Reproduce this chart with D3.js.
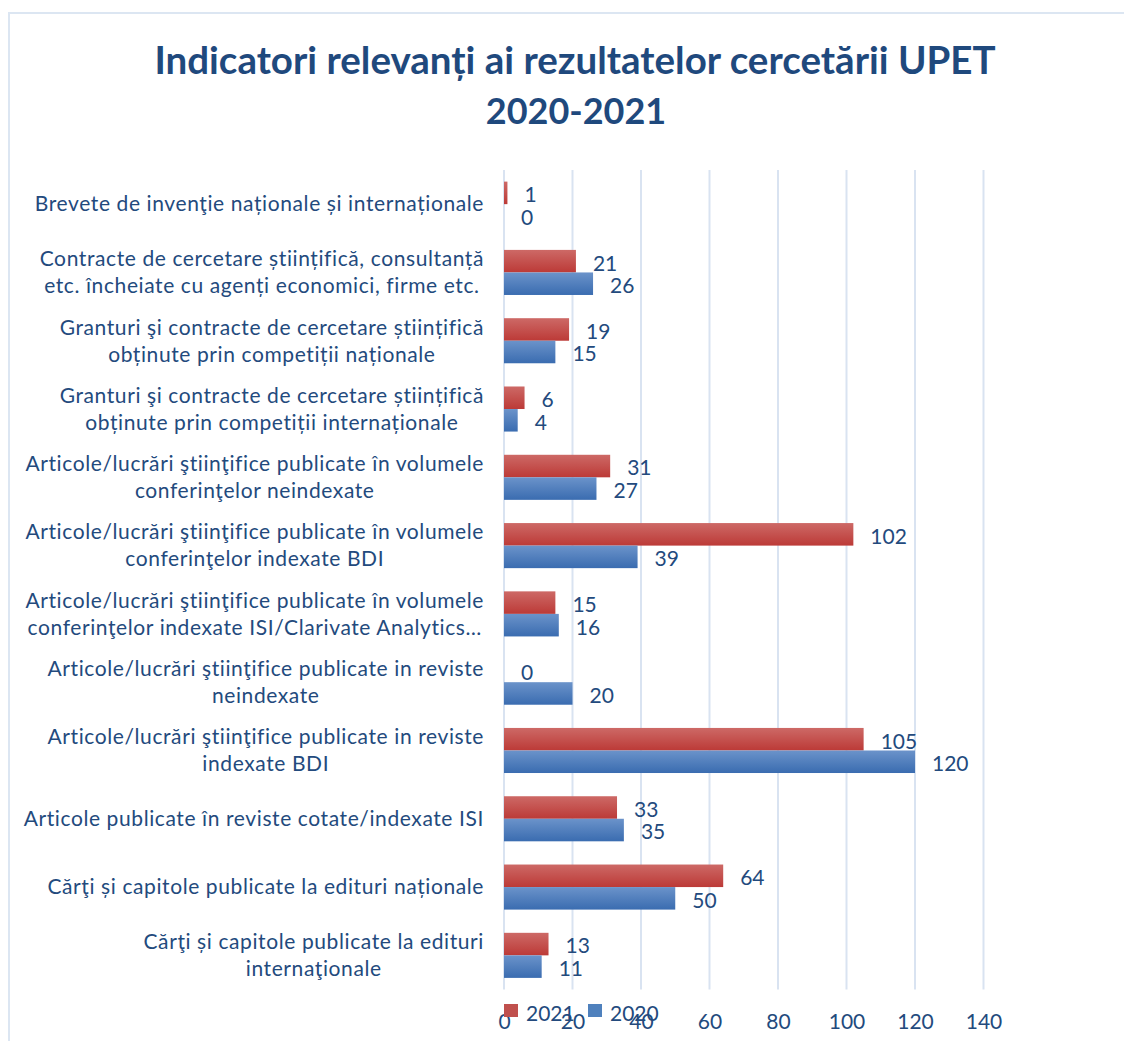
<!DOCTYPE html>
<html>
<head>
<meta charset="utf-8">
<script src="https://cdn.jsdelivr.net/npm/d3@7"></script>
<style>
  body { margin: 0; background: #fff; }
  svg { display: block; }
</style>
</head>
<body>
<script>
// date
const categorii = [
  ["Brevete de invenţie naționale și internaționale"],
  ["Contracte de cercetare științifică, consultanță", "etc. încheiate cu agenți economici, firme etc."],
  ["Granturi şi contracte de cercetare științifică", "obținute prin competiții naționale"],
  ["Granturi şi contracte de cercetare științifică", "obținute prin competiții internaționale"],
  ["Articole/lucrări ştiinţifice publicate în volumele", "conferinţelor neindexate"],
  ["Articole/lucrări ştiinţifice publicate în volumele", "conferinţelor indexate BDI"],
  ["Articole/lucrări ştiinţifice publicate în volumele", "conferinţelor indexate ISI/Clarivate Analytics…"],
  ["Articole/lucrări ştiinţifice publicate in reviste", "neindexate"],
  ["Articole/lucrări ştiinţifice publicate in reviste", "indexate BDI"],
  ["Articole publicate în reviste cotate/indexate ISI"],
  ["Cărţi și capitole publicate la edituri naționale"],
  ["Cărţi și capitole publicate la edituri", "internaţionale"]
];
const valori2021 = [1, 21, 19, 6, 31, 102, 15, 0, 105, 33, 64, 13];
const valori2020 = [0, 26, 15, 4, 27, 39, 16, 20, 120, 35, 50, 11];
const serii = ["2021", "2020"];
const tickuri = [0, 20, 40, 60, 80, 100, 120, 140];

const w = 1124;
const h = 1041;
const culoareText = "#234A7D";
const font = "Lato, 'Open Sans', sans-serif";

var svg = d3.select("body")
    .append("svg")
    .attr("width", w)
    .attr("height", h);

// gradiente pt bare
var defs = svg.append("defs");
function gradient(id, sus, jos) {
    var g = defs.append("linearGradient").attr("id", id)
        .attr("x1", 0).attr("y1", 0).attr("x2", 0).attr("y2", 1);
    g.append("stop").attr("offset", "0%").attr("stop-color", sus);
    g.append("stop").attr("offset", "100%").attr("stop-color", jos);
}
gradient("gRosu", "#CD6966", "#BC3A37");
gradient("gAlbastru", "#6B93CA", "#3A6CB0");
const culori = { "2021": "url(#gRosu)", "2020": "url(#gAlbastru)" };
const culoriLegenda = { "2021": "#C0504D", "2020": "#4F81BD" };

// chenarul graficului
svg.append("path")
    .attr("d", "M9," + h + " V13 H" + w)
    .attr("fill", "none")
    .attr("stroke", "#DCE6F2")
    .attr("stroke-width", 2);

// titlu
var titlu = svg.append("text")
    .attr("x", 575)
    .attr("text-anchor", "middle")
    .attr("font-family", font)
    .attr("font-weight", "bold")
    .attr("fill", "#1F497D");
titlu.append("tspan").attr("x", 575).attr("y", 74).attr("font-size", "38.5px")
    .text("Indicatori relevanți ai rezultatelor cercetării UPET");
titlu.append("tspan").attr("x", 576).attr("y", 124).attr("font-size", "36px")
    .text("2020-2021");

// scale
var x = d3.scaleLinear().domain([0, 140]).range([504, 983.5]);
var y = d3.scaleBand()
    .domain(d3.range(categorii.length))
    .range([170, 989.5])
    .paddingInner(0.34)
    .paddingOuter(0.17);
var ySerie = d3.scaleBand().domain(serii).range([0, y.bandwidth()]);

// grila verticala
svg.append("g")
    .selectAll("line")
    .data(tickuri)
    .enter()
    .append("line")
    .attr("x1", d => x(d))
    .attr("x2", d => x(d))
    .attr("y1", 170)
    .attr("y2", 989.5)
    .attr("stroke", "#D9E3F1")
    .attr("stroke-width", 2);

// axa x (doar etichete)
var axa = svg.append("g")
    .attr("transform", "translate(0,1014)")
    .call(d3.axisBottom(x).tickValues(tickuri).tickSize(0).tickPadding(0));
axa.select(".domain").remove();
axa.selectAll("text")
    .attr("font-family", font)
    .attr("font-size", "21px")
    .attr("fill", culoareText);

// bare
const date = categorii.map((c, i) => ({ i: i, "2021": valori2021[i], "2020": valori2020[i] }));

var grupuri = svg.append("g")
    .selectAll("g")
    .data(date)
    .enter()
    .append("g")
    .attr("transform", d => "translate(0," + y(d.i) + ")");

grupuri.selectAll("rect")
    .data(d => serii.map(s => ({ serie: s, val: d[s] })))
    .enter()
    .append("rect")
    .attr("x", x(0))
    .attr("y", d => ySerie(d.serie))
    .attr("width", d => x(d.val) - x(0))
    .attr("height", ySerie.bandwidth())
    .attr("fill", d => culori[d.serie]);

grupuri.selectAll("text")
    .data(d => serii.map(s => ({ serie: s, val: d[s] })))
    .enter()
    .append("text")
    .text(d => d.val)
    .attr("x", d => x(d.val) + 17)
    .attr("y", d => ySerie(d.serie) + ySerie.bandwidth() / 2 + 2)
    .attr("dy", "0.35em")
    .attr("font-family", font)
    .attr("font-size", "21px")
    .attr("fill", culoareText);

// etichete categorii (liniile centrate intre ele, blocul aliniat la dreapta)
const dreapta = 484;
const pasLinie = 27;
categorii.forEach(function (linii, i) {
    var g = svg.append("g");
    var centru = y(i) + y.bandwidth() / 2;
    var texte = g.selectAll("text")
        .data(linii)
        .enter()
        .append("text")
        .text(d => d)
        .attr("y", (d, k) => centru + (k - (linii.length - 1) / 2) * pasLinie)
        .attr("dy", "0.35em")
        .attr("text-anchor", "middle")
        .attr("font-family", font)
        .attr("font-size", "21px")
        .attr("letter-spacing", "0.6px")
        .attr("fill", culoareText);
    var maxW = d3.max(texte.nodes(), n => n.getComputedTextLength());
    texte.attr("x", dreapta - maxW / 2);
});

// legenda (suprapusa peste axa, ca in original)
var legenda = svg.append("g");
const legX = [504, 588];
serii.forEach(function (s, k) {
    legenda.append("rect")
        .attr("x", legX[k])
        .attr("y", 1004)
        .attr("width", 14)
        .attr("height", 13)
        .attr("fill", culoriLegenda[s]);
    legenda.append("text")
        .attr("x", legX[k] + 22)
        .attr("y", 1021)
        .attr("font-family", font)
        .attr("font-size", "21px")
        .attr("fill", culoareText)
        .text(s);
});
</script>
</body>
</html>
